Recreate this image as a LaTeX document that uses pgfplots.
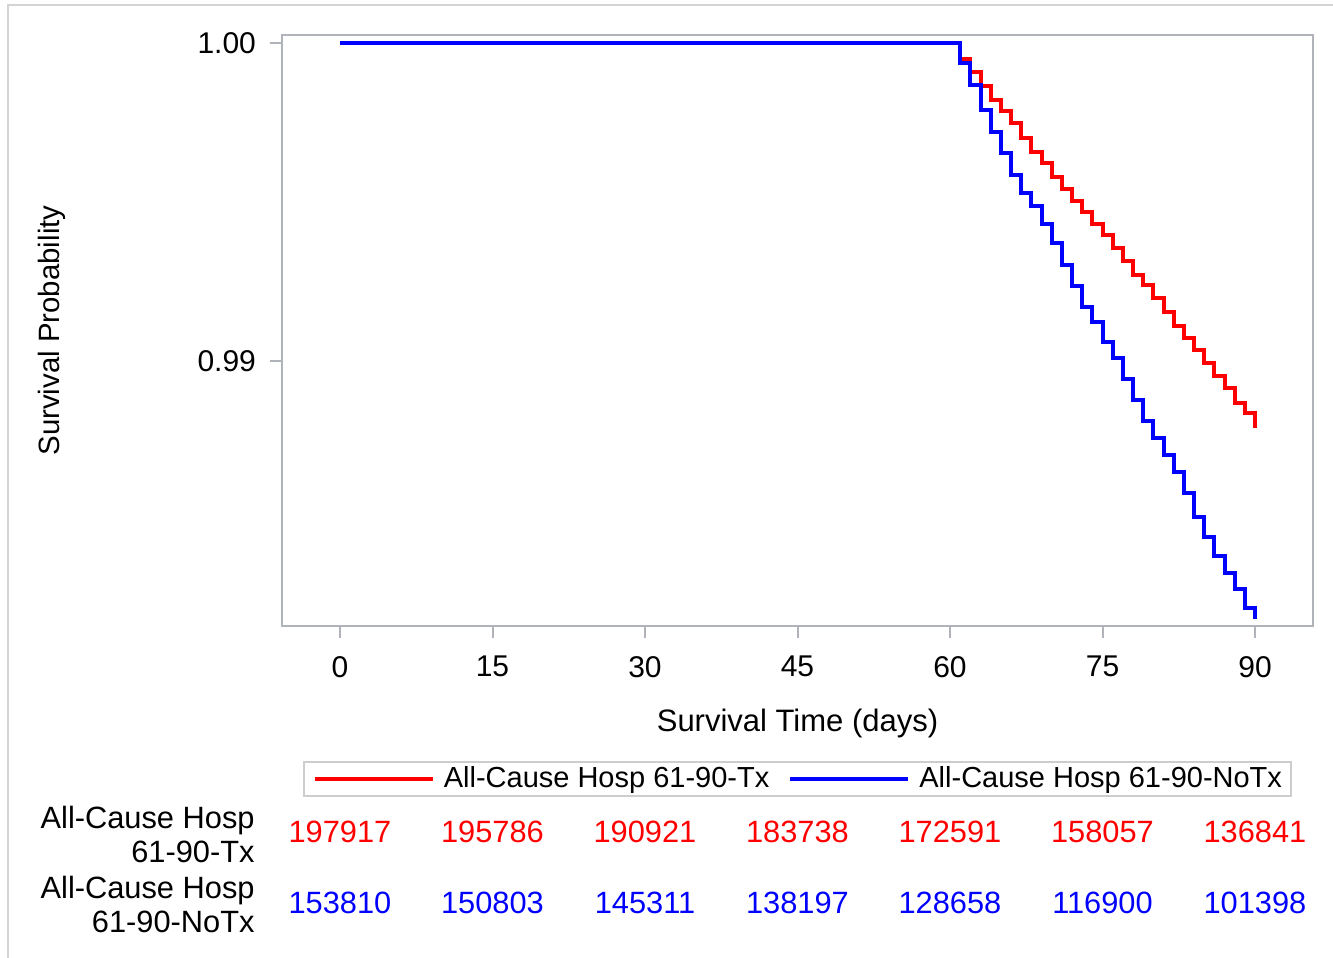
\documentclass[border=0pt]{standalone}
\usepackage{fontspec}
\setmainfont{Liberation Sans}
\usepackage{pgfplots}
\pgfplotsset{compat=1.18}
\definecolor{axgray}{RGB}{176,180,186}
\definecolor{framegray}{RGB}{212,212,212}
\definecolor{legframe}{RGB}{205,205,205}
\newcommand{\fs}{\fontsize{15.4}{18.5}\selectfont}
\newcommand{\fl}{\fontsize{14.5}{17.5}\selectfont}
\newcommand{\ft}{\fontsize{15}{18}\selectfont}
\begin{document}
\begin{tikzpicture}
\begin{axis}[
  at={(0,0)}, anchor=south west, scale only axis,
  width=515.5pt, height=295.5pt,
  xmin=-5.705, xmax=95.705, ymin=0.98167, ymax=1.000252,
  xtick={0,15,30,45,60,75,90}, ytick={0.99,1.00},
  scaled y ticks=false,
  yticklabel style={xshift=-3.5pt, /pgf/number format/.cd, fixed, fixed zerofill, precision=2},
  /pgf/number format/assume math mode=true,
  tick align=outside, tick pos=left, major tick length=6pt,
  axis line style={axgray, line width=1pt},
  tick style={axgray, line width=1pt},
  tick label style={font=\ft, text=black},
  xticklabel style={yshift=-5.5pt},
  xlabel={Survival Time (days)}, ylabel={Survival Probability},
  every axis x label/.style={at={(axis description cs:0.5,-0.165)}, anchor=center, font=\fontsize{15.5}{18}\selectfont},
  every axis y label/.style={at={(axis description cs:-0.2231,0.5)}, rotate=90, anchor=center, font=\fontsize{14.7}{18}\selectfont},
  legend image code/.code={\draw[#1] (0pt,0pt) -- (59pt,0pt);},
  legend columns=2,
  legend style={at={(axis description cs:0.0204,-0.2284)}, anchor=north west,
    draw=legframe, line width=0.8pt, font=\fl, inner xsep=4.5pt, inner ysep=2.5pt,
    nodes={inner sep=0pt},
    /tikz/every odd column/.append style={column sep=4.5pt},
    /tikz/every even column/.append style={column sep=9.5pt}},
]
\addplot[red, line width=2pt, const plot mark left, forget plot] coordinates {
(0,1) (61,0.99951) (62,0.99908) (63,0.99866) (64,0.99821) (65,0.99786)
(66,0.99748) (67,0.99701) (68,0.99657) (69,0.99623) (70,0.99579)
(71,0.99541) (72,0.99503) (73,0.99469) (74,0.99431) (75,0.99396)
(76,0.99355) (77,0.99314) (78,0.99270) (79,0.99239) (80,0.99198)
(81,0.99154) (82,0.99110) (83,0.99072) (84,0.99035) (85,0.98994)
(86,0.98953) (87,0.98915) (88,0.98868) (89,0.98836) (90,0.98790)};
\addplot[blue, line width=2pt, const plot mark left, forget plot] coordinates {
(0,1) (61,0.99937) (62,0.99868) (63,0.99789) (64,0.99720) (65,0.99654)
(66,0.99585) (67,0.99528) (68,0.99487) (69,0.99431) (70,0.99371)
(71,0.99302) (72,0.99236) (73,0.99170) (74,0.99123) (75,0.99060)
(76,0.99009) (77,0.98943) (78,0.98877) (79,0.98811) (80,0.98758)
(81,0.98704) (82,0.98651) (83,0.98585) (84,0.98509) (85,0.98447)
(86,0.98387) (87,0.98333) (88,0.98283) (89,0.98223) (90,0.98190)};
\addlegendimage{red, line width=2pt}
\addlegendentry{All-Cause Hosp 61-90-Tx}
\addlegendimage{blue, line width=2pt}
\addlegendentry{All-Cause Hosp 61-90-NoTx}
\end{axis}
\begin{scope}[shift={(-141pt,313pt)}, x=0.5pt, y=-0.5pt]
  \draw[framegray, line width=0.75pt] (8,958) -- (8,5) -- (1333,5);
  \node[anchor=base east, font=\fs, inner sep=0pt] at (255,828) {All-Cause Hosp};
  \node[anchor=base east, font=\fs, inner sep=0pt] at (255,862) {61-90-Tx};
  \node[anchor=base east, font=\fs, inner sep=0pt] at (255,898) {All-Cause Hosp};
  \node[anchor=base east, font=\fs, inner sep=0pt] at (255,932) {61-90-NoTx};
  \foreach \xx/\v in {340/197917, 492.5/195786, 645/190921, 797.5/183738, 950/172591, 1102.5/158057, 1255/136841}
    \node[anchor=base, font=\fs, inner sep=0pt, text=red] at (\xx,842) {\v};
  \foreach \xx/\v in {340/153810, 492.5/150803, 645/145311, 797.5/138197, 950/128658, 1102.5/116900, 1255/101398}
    \node[anchor=base, font=\fs, inner sep=0pt, text=blue] at (\xx,913) {\v};
  \pgfresetboundingbox
  \useasboundingbox (0,0) rectangle (1333,958);
\end{scope}
\end{tikzpicture}
\end{document}
